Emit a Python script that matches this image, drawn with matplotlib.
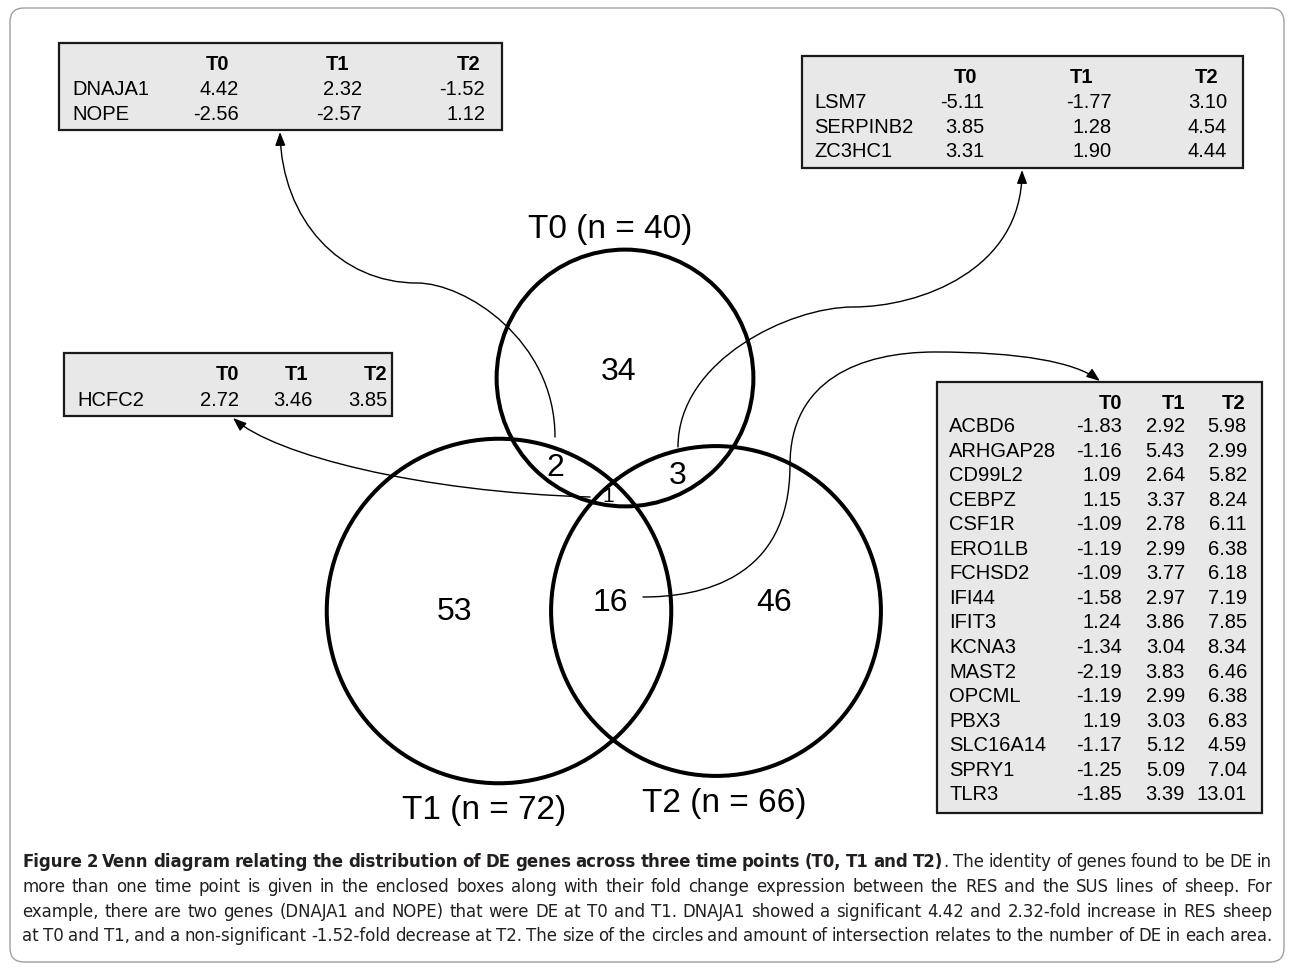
import numpy as np
import matplotlib
matplotlib.use('Agg')
import matplotlib.pyplot as plt
from matplotlib.patches import Circle, Rectangle, FancyBboxPatch, FancyArrowPatch
from matplotlib.path import Path
from matplotlib import font_manager

# --- data ---------------------------------------------------------------
set_names = ['T0', 'T1', 'T2']
set_sizes = [40, 72, 66]

# DE gene counts per Venn region
region_names = ['T0', 'T1', 'T2', 'T0&T1', 'T0&T2', 'T1&T2', 'T0&T1&T2']
region_counts = [34, 53, 46, 2, 3, 16, 1]

time_cols = ['T0', 'T1', 'T2']

# fold changes (RES vs SUS) for genes DE at more than one time point
t0t1_genes = ['DNAJA1', 'NOPE']
t0t1_fc = [[4.42, 2.32, -1.52],
           [-2.56, -2.57, 1.12]]

t0t2_genes = ['LSM7', 'SERPINB2', 'ZC3HC1']
t0t2_fc = [[-5.11, -1.77, 3.10],
           [3.85, 1.28, 4.54],
           [3.31, 1.90, 4.44]]

all3_genes = ['HCFC2']
all3_fc = [[2.72, 3.46, 3.85]]

t1t2_genes = ['ACBD6', 'ARHGAP28', 'CD99L2', 'CEBPZ', 'CSF1R', 'ERO1LB',
              'FCHSD2', 'IFI44', 'IFIT3', 'KCNA3', 'MAST2', 'OPCML', 'PBX3',
              'SLC16A14', 'SPRY1', 'TLR3']
t1t2_fc = [[-1.83, 2.92, 5.98],
           [-1.16, 5.43, 2.99],
           [1.09, 2.64, 5.82],
           [1.15, 3.37, 8.24],
           [-1.09, 2.78, 6.11],
           [-1.19, 2.99, 6.38],
           [-1.09, 3.77, 6.18],
           [-1.58, 2.97, 7.19],
           [1.24, 3.86, 7.85],
           [-1.34, 3.04, 8.34],
           [-2.19, 3.83, 6.46],
           [-1.19, 2.99, 6.38],
           [1.19, 3.03, 6.83],
           [-1.17, 5.12, 4.59],
           [-1.25, 5.09, 7.04],
           [-1.85, 3.39, 13.01]]

caption_bold = 'Figure 2 Venn diagram relating the distribution of DE genes across three time points (T0, T1 and T2)'
caption_lines = [
    '. The identity of genes found to be DE in',
    'more than one time point is given in the enclosed boxes along with their fold change expression between the RES and the SUS lines of sheep. For',
    'example, there are two genes (DNAJA1 and NOPE) that were DE at T0 and T1. DNAJA1 showed a significant 4.42 and 2.32-fold increase in RES sheep',
    'at T0 and T1, and a non-significant -1.52-fold decrease at T2. The size of the circles and amount of intersection relates to the number of DE in each area.',
]

# --- fonts ----------------------------------------------------------------
SANS = 'Liberation Sans'
names = {f.name for f in font_manager.fontManager.ttflist}
cond_dejavu = any(f.name == 'DejaVu Sans' and str(f.stretch).lower() in ('condensed', '87.5', '500')
                  for f in font_manager.fontManager.ttflist)
if 'Liberation Sans Narrow' in names:
    CAP_FONT = dict(family='Liberation Sans Narrow')
elif cond_dejavu:
    CAP_FONT = dict(family='DejaVu Sans', stretch='condensed')
else:
    CAP_FONT = dict(family='Liberation Sans')

# --- canvas (1 data unit = 1 pixel) --------------------------------------
W, H = 1292, 971
fig = plt.figure(figsize=(W / 100, H / 100), dpi=100)
ax = fig.add_axes([0, 0, 1, 1])
ax.set_xlim(0, W)
ax.set_ylim(H, 0)
ax.axis('off')

# outer frame
ax.add_patch(FancyBboxPatch((10, 8), 1274, 954, boxstyle='round,pad=0,rounding_size=14',
                            fc='white', ec='#a0a0a0', lw=1.0, zorder=0))

# --- Venn circles, area proportional to set size -------------------------
centres = [(625, 378), (499, 611), (716, 611)]
k = 20.3
for (cx, cy), n in zip(centres, set_sizes):
    ax.add_patch(Circle((cx, cy), k * np.sqrt(n), fill=False, ec='black', lw=2.9, zorder=3))

set_label_pos = [(610, 226), (484, 807), (724, 800)]
for name, n, (x, y) in zip(set_names, set_sizes, set_label_pos):
    ax.text(x, y + 12, f'{name} (n = {n})', ha='center', va='baseline',
            fontsize=24, family=SANS, zorder=4)

region_pos = [(619, 369), (455, 609), (774, 600), (555, 465), (678, 473), (610, 600), (608, 495)]
for c, (x, y) in zip(region_counts, region_pos):
    fs = 23 if c != 1 else 15
    ax.text(x, y + 0.716 * fs * 100 / 72 / 2, str(c), ha='center', va='baseline',
            fontsize=fs, family=SANS, zorder=4)


# --- fold-change tables ----------------------------------------------------
def draw_table(box, genes, vals, name_x, col_right, hdr_x, hdr_ha, y_hdr, y_first, dy):
    x0, y0, x1, y1 = box
    ax.add_patch(Rectangle((x0, y0), x1 - x0, y1 - y0, fc='#e8e8e8', ec='#1a1a1a',
                           lw=1.6, zorder=5))
    off = 7
    for col, hx in zip(time_cols, hdr_x):
        ax.text(hx, y_hdr + off, col, ha=hdr_ha, va='baseline', fontsize=14.5,
                fontweight='bold', family=SANS, zorder=6)
    for i, (g, row) in enumerate(zip(genes, vals)):
        y = y_first + i * dy + off
        ax.text(name_x, y, g, ha='left', va='baseline', fontsize=14.5, family=SANS, zorder=6)
        for v, cx in zip(row, col_right):
            ax.text(cx, y, f'{v:.2f}', ha='right', va='baseline', fontsize=14.5,
                    family=SANS, zorder=6)


draw_table((59, 43, 502, 130), t0t1_genes, t0t1_fc, 72, [239, 362, 485],
           [218, 338, 469], 'center', 63, 88, 25)
draw_table((802, 56, 1243, 168), t0t2_genes, t0t2_fc, 814, [984, 1112, 1227],
           [965, 1082, 1207], 'center', 76, 101, 24.7)
draw_table((64, 353, 392, 416), all3_genes, all3_fc, 77, [239, 313, 387],
           [239, 308, 387], 'right', 373, 399, 25)
draw_table((937, 382, 1262, 813), t1t2_genes, t1t2_fc, 949, [1122, 1185, 1247],
           [1122, 1185, 1245], 'right', 402, 425, 24.55)


# --- connector arrows from Venn regions to their tables -------------------
def connector(points):
    verts = [points[0]]
    codes = [Path.MOVETO]
    for p in points[1:]:
        verts.append(p)
        codes.append(Path.CURVE4)
    arr = FancyArrowPatch(path=Path(verts, codes), arrowstyle='-|>,head_length=0.45,head_width=0.17',
                          mutation_scale=18, lw=1.0, color='black', zorder=4)
    ax.add_patch(arr)


# T0&T1 -> DNAJA1 table
connector([(555, 437), (555, 340), (465, 283), (417, 283),
           (340, 283), (282, 220), (280, 132)])
# T0&T2 -> LSM7 table
connector([(678, 447), (678, 360), (790, 307), (853, 307),
           (920, 307), (1022, 270), (1022, 170)])
# T0&T1&T2 -> HCFC2 table
connector([(590, 497), (420, 492), (275, 455), (233, 418)])
# T1&T2 -> large table
connector([(643, 597), (700, 597), (790, 580), (790, 465),
           (790, 380), (860, 352), (935, 352),
           (1020, 352), (1075, 362), (1100, 381)])

# --- caption, justified to the frame width --------------------------------
renderer = fig.canvas.get_renderer()
cap_left, cap_right = 22, 1272
cap_y = [867, 892, 917, 941]

tokens = []
first = [(w, 'bold', False) for w in caption_bold.split(' ')]
first.append(('.', 'normal', True))
first += [(w, 'normal', False) for w in caption_lines[0][1:].split()]
tokens.append(first)
for line in caption_lines[1:]:
    tokens.append([(w, 'normal', False) for w in line.split()])


def word_width(txt, weight, fs):
    t = ax.text(0, 0, txt, fontsize=fs, fontweight=weight, **CAP_FONT)
    w = t.get_window_extent(renderer).width
    t.remove()
    return w


def natural(line, fs, space_frac):
    sp = (word_width('a a', 'normal', fs) - 2 * word_width('a', 'normal', fs)) * space_frac
    tot = sum(word_width(w, wt, fs) for w, wt, _ in line)
    gaps = sum(1 for _, _, glue in line[1:] if not glue)
    return tot + gaps * sp


# size the plain lines with tight word spacing, then make sure the bold line fits
fs0 = 14
target = cap_right - cap_left
fs_cap = min(fs0 * target / natural(l, fs0, 0.8) for l in tokens[1:])
fs_cap = min(fs_cap, fs0 * target / natural(tokens[0], fs0, 0.5))

for line, y in zip(tokens, cap_y):
    widths = [word_width(w, wt, fs_cap) for w, wt, _ in line]
    gaps = sum(1 for _, _, glue in line[1:] if not glue)
    gap = (target - sum(widths)) / max(gaps, 1)
    x = cap_left
    for i, ((w, wt, glue), wd) in enumerate(zip(line, widths)):
        if i > 0 and not glue:
            x += gap
        ax.text(x, y, w, ha='left', va='baseline', fontsize=fs_cap, fontweight=wt,
                color='#231f20', **CAP_FONT)
        x += wd

fig.savefig('out.png', dpi=100)
